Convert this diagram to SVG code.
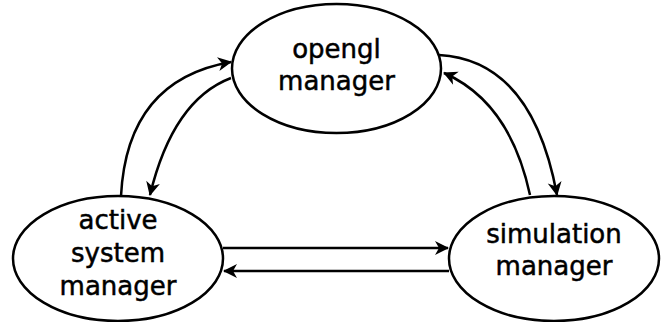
<svg xmlns="http://www.w3.org/2000/svg" width="665" height="322" viewBox="0 0 665 322">
  <style>
    .node ellipse { fill: #ffffff; stroke: #000000; stroke-width: 2.5; }
    .node text { font-family: "DejaVu Sans", sans-serif; font-size: 26px; fill: #000000; stroke: #000000; stroke-width: 0.5; text-anchor: middle; }
    .edge { fill: none; stroke: #000000; stroke-width: 2.5; marker-end: url(#arrow); }
  </style>
  <defs>
    <marker id="arrow" markerUnits="userSpaceOnUse" markerWidth="20" markerHeight="20" viewBox="-16 -10 20 20" refX="0" refY="0" orient="auto">
      <path d="M1,0 L-13,-7 L-9,0 L-13,7 Z" fill="#000000"/>
    </marker>
  </defs>

  <g id="connectors">
    <!-- active system manager -> opengl manager -->
    <path class="edge" d="M121,196 Q127,80 231,62"/>
    <!-- opengl manager -> active system manager -->
    <path class="edge" d="M231,78 Q173,100 150,195"/>
    <!-- simulation manager -> opengl manager -->
    <path class="edge" d="M530,195 Q510,102 444,73"/>
    <!-- opengl manager -> simulation manager -->
    <path class="edge" d="M439,55 Q532,60 557,195"/>
    <!-- active system manager -> simulation manager -->
    <path class="edge" d="M223,248 L448,248"/>
    <!-- simulation manager -> active system manager -->
    <path class="edge" d="M449,271 L224,271"/>
  </g>

  <g id="opengl-manager" class="node">
    <ellipse cx="336.5" cy="68.5" rx="104.5" ry="64.5"/>
    <text x="336.5" y="58">opengl</text>
    <text x="336.5" y="90">manager</text>
  </g>

  <g id="active-system-manager" class="node">
    <ellipse cx="118" cy="258.5" rx="105" ry="62.5"/>
    <text x="118" y="229">active</text>
    <text x="118" y="262">system</text>
    <text x="118" y="295">manager</text>
  </g>

  <g id="simulation-manager" class="node">
    <ellipse cx="554" cy="258.5" rx="105" ry="62.5"/>
    <text x="554" y="243">simulation</text>
    <text x="554" y="275">manager</text>
  </g>
</svg>
